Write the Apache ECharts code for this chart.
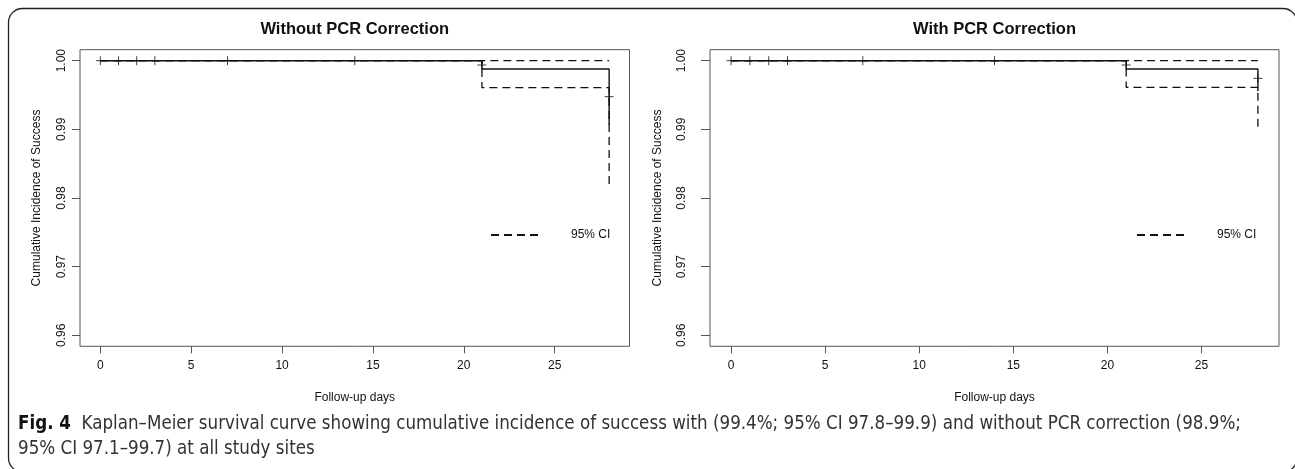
<!DOCTYPE html>
<html>
<head>
<meta charset="utf-8">
<script src="https://cdn.jsdelivr.net/npm/echarts@6/dist/echarts.min.js"></script>
<style>
html,body{margin:0;padding:0;background:#fff;}
#chart{width:1295px;height:469px;}
</style>
</head>
<body>
<div id="chart"></div>
<script>
// ---- data ----
const panelTitles = ['Without PCR Correction', 'With PCR Correction'];
const xTickValues = [0, 5, 10, 15, 20, 25];
const yTickValues = [0.96, 0.97, 0.98, 0.99, 1.00];
const eventDays = [0, 21, 28];
const survWithout = [1.0, 0.99879, 0.99063];
const lowerWithout = [1.0, 0.99607, 0.98146];
const upperWithout = [1.0, 1.0, 1.0];
const survWith = [1.0, 0.99879, 0.99560];
const lowerWith = [1.0, 0.99612, 0.99039];
const upperWith = [1.0, 1.0, 1.0];
const censorDays = [0, 1, 2, 3, 7, 14, 21, 28];
const censorWithout = [1, 1, 1, 1, 1, 1, 0.99937, 0.99476];
const censorWith = [1, 1, 1, 1, 1, 1, 0.99937, 0.99743];
const xLabel = 'Follow-up days';
const yLabel = 'Cumulative Incidence of Success';
const legendLabel = '95% CI';
const captionBold = 'Fig. 4';
const captionText = 'Kaplan\u2013Meier survival curve showing cumulative incidence of success with (99.4%; 95% CI 97.8\u201399.9) and without PCR correction (98.9%;\n95% CI 97.1\u201399.7) at all study sites';

// ---- layout/style ----
const FONT = '"Liberation Sans", Arial, sans-serif';
const NARROW = '"Liberation Sans Narrow", "DejaVu Sans Condensed", "Liberation Sans", sans-serif';
const INK = '#111';
const BOX = '#555';
const grids = [
  {left: 80, top: 49.7, width: 549.5, height: 296.6},
  {left: 710, top: 49.7, width: 569, height: 296.6}
];
const yLabelMargin = [12, 22];
const yNameGap = [37, 46];
const legendPos = [{left: 490, top: 229}, {left: 1136, top: 229}];

function pairs(xs, ys) { return xs.map((x, i) => [x, ys[i]]); }

const panels = [
  {surv: survWithout, lower: lowerWithout, upper: upperWithout, censor: censorWithout},
  {surv: survWith, lower: lowerWith, upper: upperWith, censor: censorWith}
];

const option = {
  animation: false,
  backgroundColor: '#fff',
  textStyle: {fontFamily: FONT},
  title: [
    ...panelTitles.map((t, i) => ({
      text: t, left: grids[i].left + grids[i].width / 2, top: 21, textAlign: 'center', padding: 0,
      textStyle: {fontFamily: FONT, fontSize: 16.5, fontWeight: 'bold', color: INK}
    })),
    {
      text: '{b|' + captionBold + '}  ' + captionText,
      left: 18, top: 412, padding: 0,
      textStyle: {
        fontFamily: NARROW, fontSize: 18.6, color: '#333', lineHeight: 25, fontWeight: 'normal',
        rich: {b: {fontFamily: NARROW, fontSize: 18.6, fontWeight: 'bold', color: '#111', lineHeight: 25}}
      }
    }
  ],
  legend: panelTitles.map((t, i) => ({
    show: true, orient: 'horizontal', left: legendPos[i].left, top: legendPos[i].top, padding: 0,
    itemWidth: 48, itemHeight: 14, selectedMode: false,
    data: [legendLabel],
    itemStyle: {opacity: 0},
    textStyle: {fontFamily: FONT, fontSize: 12, color: INK, padding: [0, 0, 0, 27]}
  })),
  grid: grids.map(g => ({...g, show: true, borderColor: BOX, borderWidth: 1, backgroundColor: 'transparent', outerBoundsMode: 'none'})),
  xAxis: grids.map((g, i) => ({
    type: 'value', gridIndex: i, min: -1.12, max: 29.12,
    name: xLabel, nameLocation: 'middle', nameGap: 45,
    nameTextStyle: {fontFamily: FONT, fontSize: 12, color: INK},
    axisLine: {show: false, onZero: false},
    axisTick: {show: true, length: 7, customValues: xTickValues, lineStyle: {color: BOX, width: 1}},
    axisLabel: {show: true, customValues: xTickValues, margin: 13, fontFamily: FONT, fontSize: 12, color: INK},
    splitLine: {show: false}
  })),
  yAxis: grids.map((g, i) => ({
    type: 'value', gridIndex: i, min: 0.9584, max: 1.0016,
    name: yLabel, nameLocation: 'middle', nameGap: yNameGap[i],
    nameTextStyle: {fontFamily: FONT, fontSize: 12, color: INK},
    axisLine: {show: false, onZero: false},
    axisTick: {show: true, length: i === 0 ? 8 : 9, customValues: yTickValues, lineStyle: {color: BOX, width: 1}},
    axisLabel: {show: true, customValues: yTickValues, rotate: 90, margin: yLabelMargin[i], fontFamily: FONT, fontSize: 12, color: INK,
      formatter: v => Number(v).toFixed(2)},
    splitLine: {show: false}
  })),
  series: []
};

panels.forEach((p, i) => {
  option.series.push({
    name: legendLabel, type: 'line', xAxisIndex: i, yAxisIndex: i, step: 'end', symbol: 'none',
    data: pairs(eventDays, p.upper), lineStyle: {color: INK, width: 1.3, type: [8, 5]}, itemStyle: {color: INK}, z: 2
  });
  option.series.push({
    name: legendLabel, type: 'line', xAxisIndex: i, yAxisIndex: i, step: 'end', symbol: 'none',
    data: pairs(eventDays, p.lower), lineStyle: {color: INK, width: 1.3, type: [8, 5]}, itemStyle: {color: INK}, z: 2
  });
  option.series.push({
    name: 'KM', type: 'line', xAxisIndex: i, yAxisIndex: i, step: 'end', symbol: 'none',
    data: pairs(eventDays, p.surv), lineStyle: {color: INK, width: 1.4, type: 'solid'}, z: 3
  });
  option.series.push({
    name: 'censored', type: 'scatter', xAxisIndex: i, yAxisIndex: i,
    symbol: 'path://M5,0L5,10M0,5L10,5', symbolSize: [9, 9],
    itemStyle: {color: 'none', borderColor: INK, borderWidth: 1},
    data: pairs(censorDays, p.censor), z: 4, silent: true
  });
});

option.graphic = [{
  type: 'rect', silent: true, z: 0,
  shape: {x: 8.5, y: 8.5, width: 1288.5, height: 463.5, r: 14},
  style: {fill: 'none', stroke: '#222', lineWidth: 1.3}
}];

const chart = echarts.init(document.getElementById('chart'), null, {renderer: 'canvas'});
chart.setOption(option);
</script>
</body>
</html>
